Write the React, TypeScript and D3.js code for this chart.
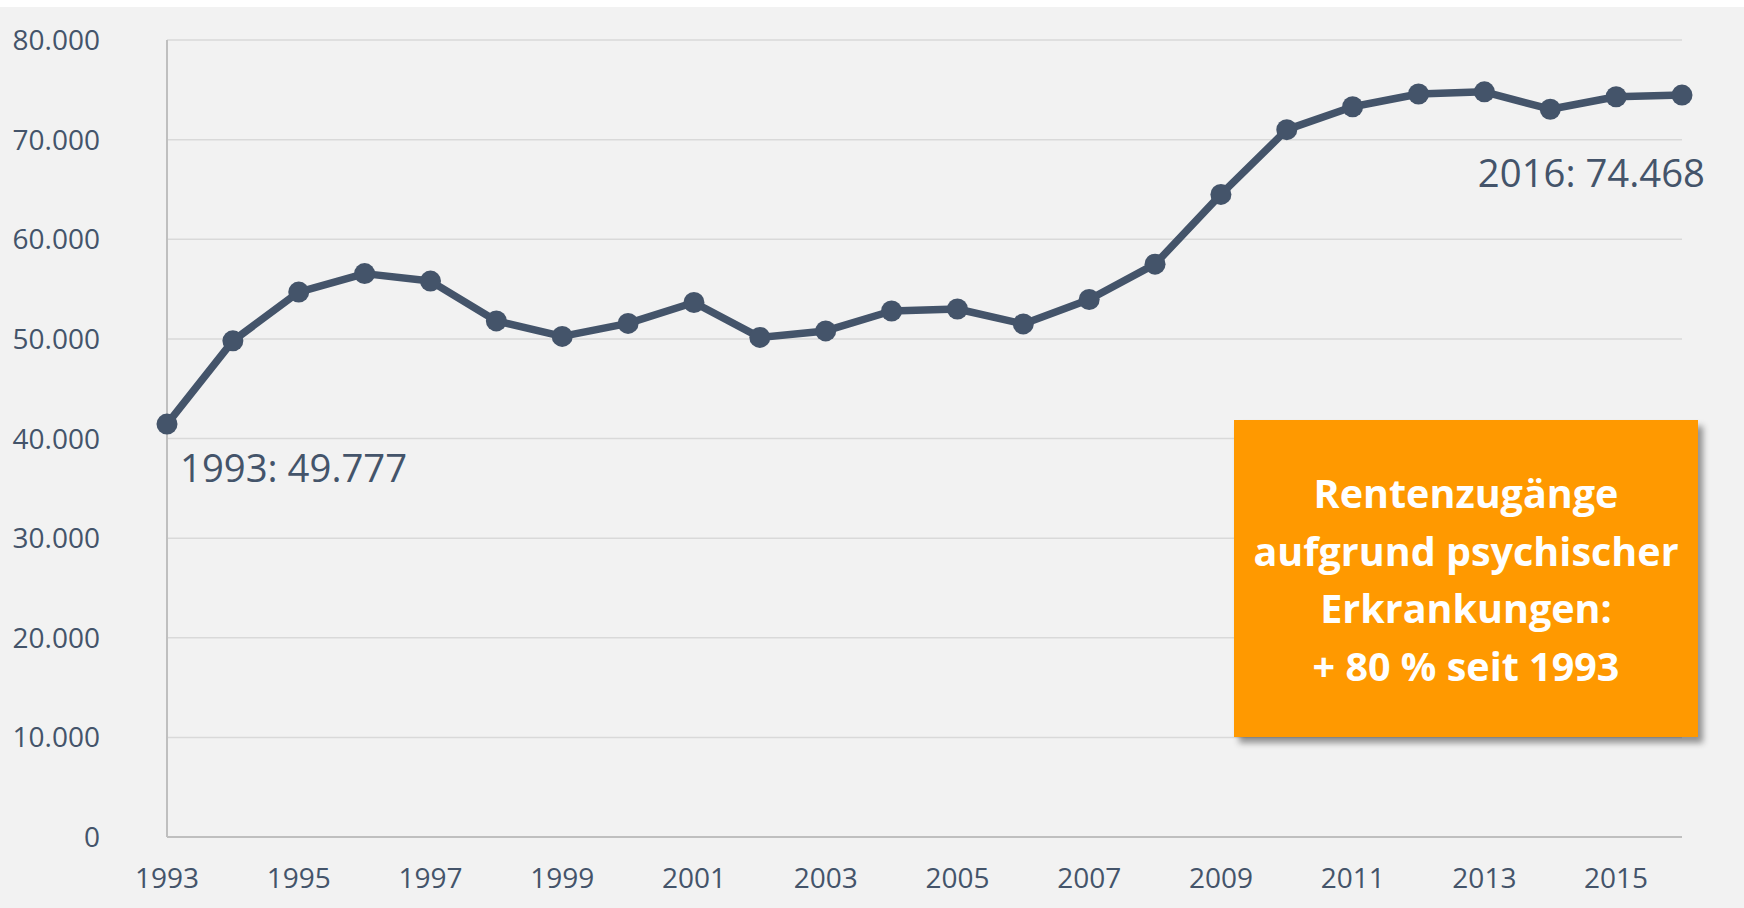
import * as d3 from "d3";

const years = [
  1993, 1994, 1995, 1996, 1997, 1998, 1999, 2000, 2001, 2002, 2003, 2004,
  2005, 2006, 2007, 2008, 2009, 2010, 2011, 2012, 2013, 2014, 2015, 2016,
];
const values = [
  41450, 49800, 54700, 56550, 55800, 51800, 50250, 51550, 53650, 50150, 50800,
  52800, 53000, 51500, 53950, 57500, 64500, 71000, 73300, 74580, 74800, 73050,
  74300, 74468,
];
const yTicks = [0, 10000, 20000, 30000, 40000, 50000, 60000, 70000, 80000];
const xTicks = [1993, 1995, 1997, 1999, 2001, 2003, 2005, 2007, 2009, 2011, 2013, 2015];
const startLabel = "1993: 49.777";
const endLabel = "2016: 74.468";
const boxLines = [
  "Rentenzugänge",
  "aufgrund psychischer",
  "Erkrankungen:",
  "+ 80 % seit 1993",
];

const W = 1744;
const H = 908;
const ink = "#44546a";
const font = "'Open Sans', sans-serif";

const de = d3.formatLocale({
  decimal: ",",
  thousands: ".",
  grouping: [3],
  currency: ["", " €"],
});
const fmt = de.format(",d");

export default function App() {
  const x = d3.scaleLinear().domain([1993, 2016]).range([167, 1682]);
  const y = d3.scaleLinear().domain([0, 80000]).range([837, 40]);

  const pts = years.map((yr, i) => [yr, values[i]] as [number, number]);
  const line = d3
    .line<[number, number]>()
    .x((d) => x(d[0]))
    .y((d) => y(d[1]));

  const [x0, x1] = x.range();

  return (
    <svg
      width={W}
      height={H}
      style={{ position: "absolute", left: 0, top: 0 }}
      fontFamily={font}
    >
      <defs>
        <filter id="shadow" x="-10%" y="-10%" width="130%" height="130%">
          <feDropShadow dx="5" dy="6" stdDeviation="3" floodColor="#000" floodOpacity="0.4" />
        </filter>
      </defs>
      <rect x={0} y={0} width={W} height={H} fill="#ffffff" />
      <rect x={0} y={7} width={W} height={H - 7} fill="#f2f2f2" />

      {/* grid */}
      {yTicks.slice(1).map((t) => (
        <line key={t} x1={x0} x2={x1} y1={y(t)} y2={y(t)} stroke="#d9d9d9" strokeWidth={1.5} />
      ))}
      <line x1={x0} x2={x0} y1={y(80000)} y2={y(0)} stroke="#bfbfbf" strokeWidth={2} />
      <line x1={x0} x2={x1} y1={y(0)} y2={y(0)} stroke="#bfbfbf" strokeWidth={2} />

      {/* y labels */}
      {yTicks.map((t) => (
        <text key={t} x={100} y={y(t) + 10} textAnchor="end" fontSize={28} fill={ink}>
          {fmt(t)}
        </text>
      ))}

      {/* x labels */}
      {xTicks.map((t) => (
        <text key={t} x={x(t)} y={888} textAnchor="middle" fontSize={28} fill={ink}>
          {t}
        </text>
      ))}

      {/* series */}
      <path d={line(pts) ?? ""} fill="none" stroke={ink} strokeWidth={7.5} strokeLinejoin="round" />
      {pts.map((d) => (
        <circle key={d[0]} cx={x(d[0])} cy={y(d[1])} r={10.5} fill={ink} />
      ))}

      <text x={180} y={482} fontSize={38.3} fill={ink}>
        {startLabel}
      </text>
      <text x={1705} y={187} fontSize={38.3} fill={ink} textAnchor="end">
        {endLabel}
      </text>

      {/* callout */}
      <rect x={1234} y={420} width={464} height={317} fill="#ff9900" filter="url(#shadow)" />
      {boxLines.map((s, i) => (
        <text
          key={s}
          x={1466}
          y={508 + i * 57.5}
          textAnchor="middle"
          fontSize={39.5}
          fontWeight={700}
          fill="#ffffff"
        >
          {s}
        </text>
      ))}
    </svg>
  );
}
